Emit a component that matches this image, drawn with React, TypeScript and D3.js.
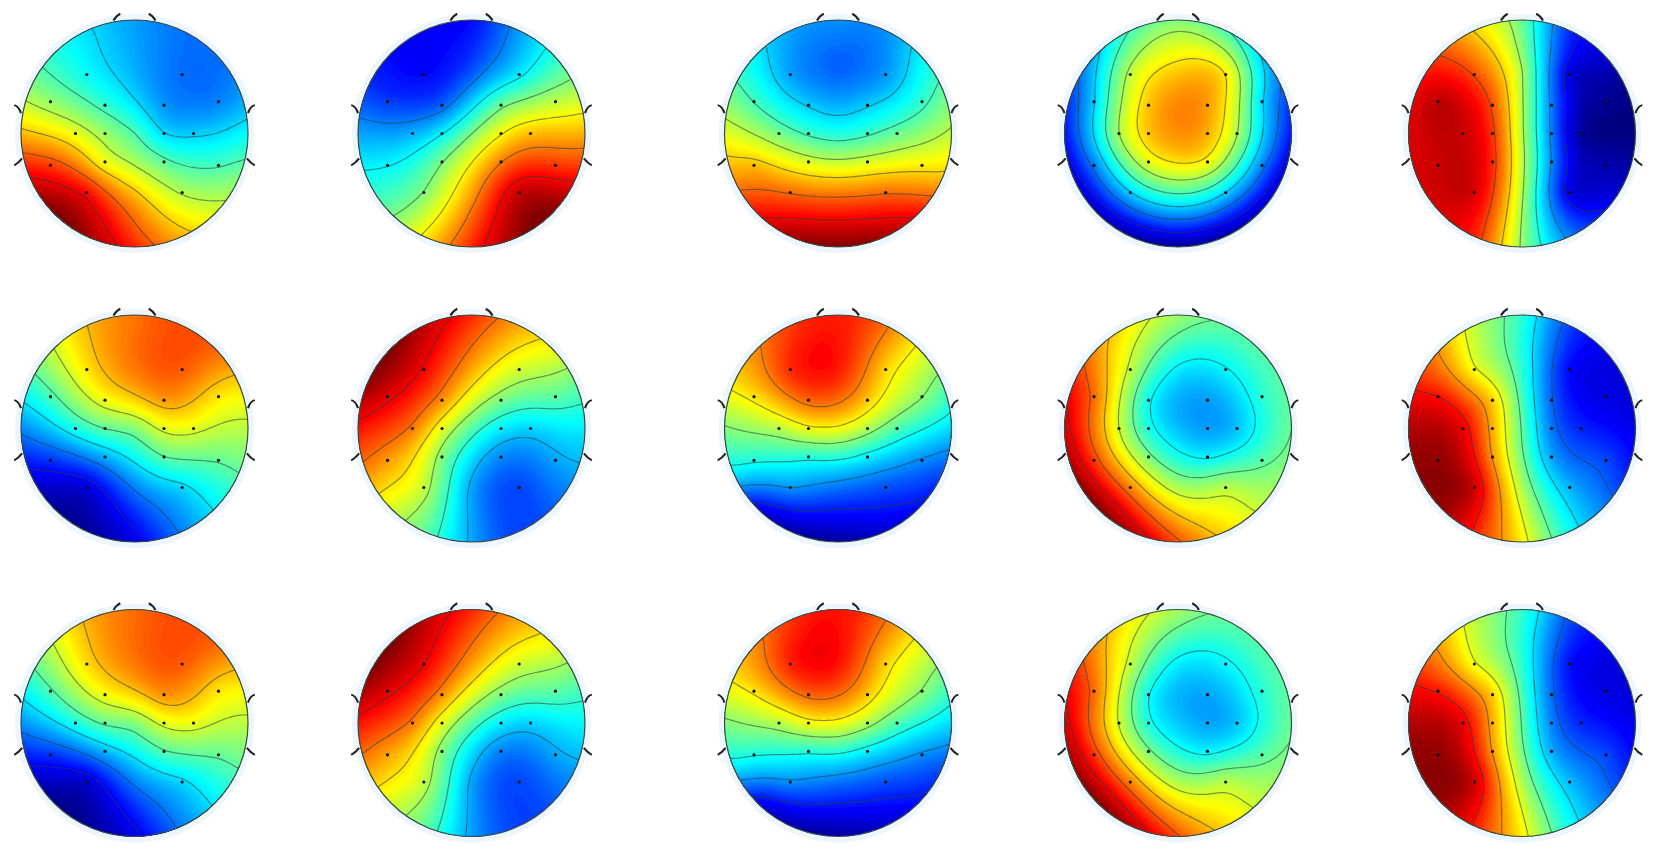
import * as d3 from "d3";
import { useMemo } from "react";

// electrode positions, unit circle, y down
const electrodeX = [-.42, .42, -.74, -.26, .26, .74, -.52, -.26, .26, .52, -.74, -.26, .26, .74, -.42, .42];
const electrodeY = [-.52, -.52, -.28, -.25, -.25, -.28, 0, 0, 0, 0, .28, .25, .25, .28, .52, .52];
// extra read points: midline, then rim clockwise from the nose
const midlineX = [0, 0, 0];
const midlineY = [-.55, 0, .55];
const rimAngles = d3.range(16).map(i => i * 22.5);

// values, 0..1 on the colour scale
// order: 16 electrodes, 3 midline, 16 rim
const head11 = [.38,.23,.52,.42,.27,.25,.61,.53,.33,.33,.82,.60,.47,.44,.88,.55, .30,.46,.70, .28,.24,.23,.27,.38,.50,.60,.71,.84,.96,1.0,.89,.69,.52,.41,.34];
const head12 = [.13,.35,.18,.21,.49,.56,.30,.37,.62,.69,.37,.50,.75,.82,.50,.94, .20,.50,.72, .13,.27,.40,.54,.70,.86,1.0,.97,.84,.66,.49,.39,.29,.18,.13,.13];
const head13 = [.28,.27,.44,.33,.33,.42,.49,.43,.43,.48,.70,.59,.59,.64,.77,.77, .22,.40,.77, .27,.26,.36,.47,.57,.68,.87,.97,1.0,.97,.87,.72,.60,.47,.36,.28];
const head14 = [.57,.66,.32,.68,.72,.33,.55,.68,.70,.55,.24,.60,.63,.25,.33,.33, .67,.73,.42, .50,.45,.34,.22,.14,.09,.06,.03,.02,.03,.06,.10,.14,.20,.32,.45];
const head15 = [.80,.08,.95,.80,.25,.03,.92,.83,.25,.02,.92,.84,.27,.06,.92,.08, .55,.55,.55, .48,.18,.10,.01,.00,.05,.15,.27,.52,.83,.90,.92,.90,.88,.80,.65];

const head21 = [.65,.79,.44,.62,.73,.64,.40,.47,.60,.60,.17,.30,.47,.47,.08,.33, .76,.49,.24, .76,.80,.78,.66,.56,.47,.36,.24,.10,.03,.03,.12,.26,.42,.58,.70];
const head22 = [.88,.58,.90,.74,.50,.47,.76,.60,.36,.33,.72,.50,.26,.29,.58,.19, .72,.46,.28, .84,.72,.62,.47,.36,.29,.22,.19,.29,.46,.58,.74,.86,.98,1.0,.93];
const head23 = [.84,.66,.65,.78,.68,.52,.55,.62,.55,.45,.40,.40,.36,.26,.28,.20, .86,.62,.22, .85,.78,.62,.47,.34,.20,.13,.08,.03,.04,.10,.37,.50,.65,.74,.82];
const head24 = [.57,.37,.78,.38,.28,.42,.58,.40,.28,.31,.82,.50,.36,.46,.75,.57, .37,.32,.56, .53,.47,.46,.46,.48,.51,.57,.67,.80,.94,1.0,.97,.92,.85,.72,.62];
const head25 = [.60,.12,.87,.68,.22,.10,.90,.70,.24,.16,.98,.72,.28,.20,.94,.30, .42,.47,.55, .42,.20,.12,.09,.10,.15,.26,.40,.64,.83,.97,.98,.95,.84,.72,.55];

const head31 = [.66,.79,.45,.62,.74,.64,.40,.48,.60,.61,.17,.31,.46,.47,.07,.33, .76,.49,.24, .77,.80,.78,.66,.56,.47,.36,.24,.10,.03,.02,.12,.27,.42,.58,.71];
const head32 = [.89,.58,.90,.74,.50,.47,.76,.60,.36,.33,.71,.50,.25,.29,.58,.19, .73,.46,.28, .84,.72,.62,.47,.37,.29,.21,.19,.28,.46,.58,.73,.86,.98,1.0,.93];
const head33 = [.85,.66,.65,.78,.68,.52,.55,.62,.55,.45,.40,.40,.36,.26,.27,.20, .87,.62,.22, .86,.78,.62,.47,.34,.21,.13,.07,.03,.04,.10,.37,.50,.65,.74,.83];
const head34 = [.57,.37,.78,.38,.29,.42,.58,.40,.29,.31,.83,.50,.36,.46,.75,.57, .37,.33,.56, .54,.47,.46,.46,.48,.51,.57,.67,.80,.94,1.0,.97,.92,.85,.72,.62];
const head35 = [.60,.13,.86,.68,.23,.10,.90,.70,.25,.16,.98,.72,.29,.20,.94,.31, .42,.47,.55, .43,.21,.12,.09,.10,.15,.26,.40,.64,.83,.97,.98,.95,.84,.71,.55];

const heads = [
  [head11, head12, head13, head14, head15],
  [head21, head22, head23, head24, head25],
  [head31, head32, head33, head34, head35],
];

const colCenters = [134.5, 471.5, 838, 1178, 1522];
const rowCenters = [133.5, 428.5, 723];
const radius = 113.5;

const jet = d3.scaleLinear<string>()
  .domain([0, .125, .375, .625, .875, 1])
  .range(["#00007f", "#0000ff", "#00ffff", "#ffff00", "#ff0000", "#7f0000"])
  .clamp(true);

const fillLevels = d3.range(0, 1, 1 / 128);
const gridSize = 110;
const gridSpan = 1.06;
const smoothing = 0.025; // the readings are rough, don't pass exactly through them

const px = [...electrodeX, ...midlineX, ...rimAngles.map(a => Math.sin(a * Math.PI / 180))];
const py = [...electrodeY, ...midlineY, ...rimAngles.map(a => -Math.cos(a * Math.PI / 180))];

function kernel(dx: number, dy: number) {
  const r2 = dx * dx + dy * dy;
  return r2 === 0 ? 0 : 0.5 * r2 * Math.log(r2);
}

// thin plate spline through the read points, solved with plain elimination
function solve(values: number[]) {
  const n = px.length;
  const A: number[][] = [];
  for (let i = 0; i < n + 3; i++) {
    const row = new Array(n + 4).fill(0);
    if (i < n) {
      for (let j = 0; j < n; j++) row[j] = kernel(px[i] - px[j], py[i] - py[j]);
      row[i] = smoothing;
      row[n] = 1; row[n + 1] = px[i]; row[n + 2] = py[i];
      row[n + 3] = values[i];
    } else {
      for (let j = 0; j < n; j++) row[j] = i === n ? 1 : i === n + 1 ? px[j] : py[j];
    }
    A.push(row);
  }
  for (let c = 0; c < n + 3; c++) {
    let p = c;
    for (let r = c + 1; r < n + 3; r++) if (Math.abs(A[r][c]) > Math.abs(A[p][c])) p = r;
    [A[c], A[p]] = [A[p], A[c]];
    for (let r = 0; r < n + 3; r++) {
      if (r === c) continue;
      const f = A[r][c] / A[c][c];
      if (f === 0) continue;
      for (let k = c; k < n + 4; k++) A[r][k] -= f * A[c][k];
    }
  }
  return A.map((row, i) => row[n + 3] / row[i]);
}

function fieldGrid(values: number[]) {
  const w = solve(values);
  const n = px.length;
  const grid = new Float64Array(gridSize * gridSize);
  let min = Infinity, max = -Infinity;
  for (let j = 0; j < gridSize; j++) {
    const y = -gridSpan + 2 * gridSpan * (j + .5) / gridSize;
    for (let i = 0; i < gridSize; i++) {
      const x = -gridSpan + 2 * gridSpan * (i + .5) / gridSize;
      let v = w[n] + w[n + 1] * x + w[n + 2] * y;
      for (let k = 0; k < n; k++) v += w[k] * kernel(x - px[k], y - py[k]);
      grid[j * gridSize + i] = v;
      if (x * x + y * y <= 1) {
        if (v < min) min = v;
        if (v > max) max = v;
      }
    }
  }
  return { grid, min, max };
}

// ear and nose ticks, in head radii
const ear = "M-1.06,-.25 Q-1.02,-.24 -1.0,-.18";
const earLow = "M-1.06,.28 Q-1.02,.26 -.99,.22";
const nose = "M-.185,-.995 Q-.16,-1.04 -.125,-1.055";

function Head({ values, cx, cy, id }: { values: number[]; cx: number; cy: number; id: string }) {
  const { fills, lines, base } = useMemo(() => {
    const { grid, min, max } = fieldGrid(values);
    const scale = radius * 2 * gridSpan / gridSize;
    const path = d3.geoPath(d3.geoIdentity().scale(scale).translate([cx - radius * gridSpan, cy - radius * gridSpan]));
    const contours = d3.contours().size([gridSize, gridSize]);
    const fills = fillLevels.filter(t => t > min && t < max).map(t => ({
      t,
      d: path(contours.contour(grid as any, t)) as string,
    }));
    const lines = d3.range(1, 7).map(k => path(contours.contour(grid as any, min + (max - min) * k / 7)) as string);
    return { fills, lines, base: jet(min) };
  }, [values, cx, cy]);

  return (
    <g filter="url(#soft)">
      <circle cx={cx} cy={cy} r={radius + 6} fill="#eef6fd" />
      <clipPath id={id}><circle cx={cx} cy={cy} r={radius} /></clipPath>
      <g clipPath={`url(#${id})`}>
        <circle cx={cx} cy={cy} r={radius} fill={base} />
        {fills.map(f => <path key={f.t} d={f.d} fill={jet(f.t + 1 / 256)} />)}
        {lines.map((d, i) => <path key={i} d={d} fill="none" stroke="#27403a" strokeOpacity={.55} strokeWidth={1.2} />)}
      </g>
      <circle cx={cx} cy={cy} r={radius} fill="none" stroke="#3c4a44" strokeWidth={1.2} />
      {electrodeX.map((x, i) => (
        <circle key={i} cx={cx + x * radius} cy={cy + electrodeY[i] * radius} r={1.6} fill="#111" />
      ))}
      <g transform={`translate(${cx},${cy}) scale(${radius})`} fill="none" stroke="#222" strokeWidth={2 / radius}>
        <path d={ear} /><path d={earLow} /><path d={nose} />
        <g transform="scale(-1,1)"><path d={ear} /><path d={earLow} /><path d={nose} /></g>
      </g>
    </g>
  );
}

export default function App() {
  return (
    <svg width={1654} height={854} viewBox="0 0 1654 854"
      style={{ position: "absolute", left: 0, top: 0, background: "#fff" }}>
      <defs>
        <filter id="soft" x="-5%" y="-5%" width="110%" height="110%">
          <feGaussianBlur stdDeviation={0.55} />
        </filter>
      </defs>
      {heads.map((row, r) => row.map((values, c) => (
        <Head key={`${r}-${c}`} id={`clip-${r}-${c}`} values={values} cx={colCenters[c]} cy={rowCenters[r]} />
      )))}
    </svg>
  );
}
